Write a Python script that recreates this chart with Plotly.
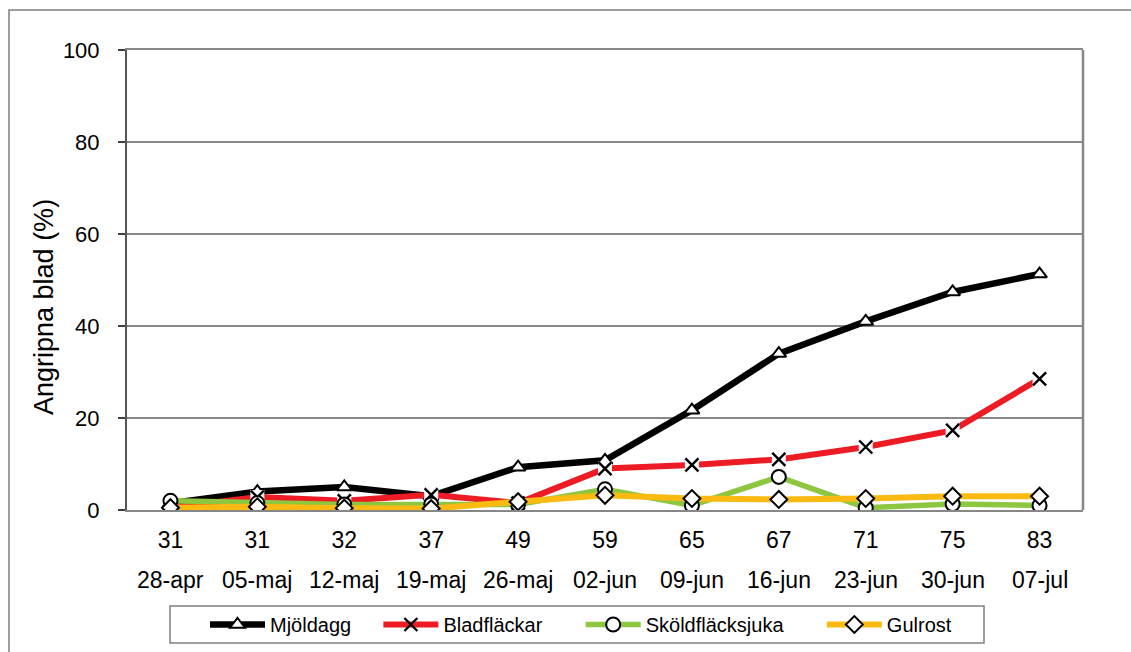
import plotly.graph_objects as go

# Growth stage codes and observation dates (two-level category axis)
stages = ["31", "31", "32", "37", "49", "59", "65", "67", "71", "75", "83"]
dates = ["28-apr", "05-maj", "12-maj", "19-maj", "26-maj", "02-jun",
         "09-jun", "16-jun", "23-jun", "30-jun", "07-jul"]

# Share of infected leaves (%)
mjoldagg = [1.5, 4.0, 5.0, 3.0, 9.3, 10.8, 21.7, 34.0, 41.0, 47.4, 51.3]
bladflackar = [0.5, 2.8, 2.0, 3.3, 1.5, 9.0, 9.8, 11.0, 13.7, 17.3, 28.5]
skoldflacksjuka = [2.0, 1.5, 1.2, 1.2, 1.2, 4.5, 1.0, 7.2, 0.5, 1.3, 1.0]
gulrost = [0.5, 0.7, 0.4, 0.3, 1.8, 3.2, 2.5, 2.3, 2.5, 3.0, 3.0]

y_ticks = [0, 20, 40, 60, 80, 100]

FONT = "Liberation Sans, Arial, sans-serif"
W, H = 1131, 652
L, R, T, B = 127, 48, 50, 142
PW, PH = W - L - R, H - T - B

xs = list(range(len(stages)))


def pad(n):
    # non-breaking spaces widen a legend entry
    return "\u00a0" * n


fig = go.Figure()


def add_series(name, vals, color, symbol, msize, width):
    fig.add_trace(go.Scatter(
        x=xs, y=vals, name=name, mode="lines+markers",
        line=dict(color=color, width=width),
        marker=dict(symbol=symbol, size=msize, color="white",
                    line=dict(color="black", width=2)),
    ))


add_series("Mjöldagg" + pad(4), mjoldagg, "#000000", "triangle-up", 13, 6.5)

# Red series: line, white halo behind each cross, then the cross
fig.add_trace(go.Scatter(
    x=xs, y=bladflackar, name="Bladfläckar" + pad(6), mode="lines+markers",
    line=dict(color="#ED1C24", width=6),
    marker=dict(symbol="x-thin", size=13, color="black",
                line=dict(color="black", width=2.4)),
))
fig.add_trace(go.Scatter(
    x=xs, y=bladflackar, mode="markers", showlegend=False, hoverinfo="skip",
    marker=dict(symbol="square", size=14, color="white", line=dict(width=0)),
))
fig.add_trace(go.Scatter(
    x=xs, y=bladflackar, mode="markers", showlegend=False, hoverinfo="skip",
    marker=dict(symbol="x-thin", size=13, color="black",
                line=dict(color="black", width=2.4)),
))

add_series("Sköldfläcksjuka" + pad(6), skoldflacksjuka, "#8DC63F", "circle", 14, 5.5)
add_series("Gulrost", gulrost, "#FBBA12", "diamond", 13, 6)

# Second row of category labels: dates
for i, d in enumerate(dates):
    fig.add_annotation(
        x=i, xref="x", y=(510 - 580) / PH, yref="paper",
        text=d, showarrow=False, yanchor="middle",
        font=dict(family=FONT, size=23, color="black"),
    )

# Y-axis title
fig.add_annotation(
    x=(44 - L) / PW, xref="paper", y=(T + PH - 307) / PH, yref="paper",
    text="Angripna blad (%)", textangle=-90, showarrow=False,
    xanchor="center", yanchor="middle",
    font=dict(family=FONT, size=27, color="black"),
)

shapes = [
    # right border of the plot area
    dict(type="line", xref="paper", yref="paper", x0=1, x1=1, y0=0, y1=1,
         line=dict(color="#878787", width=2.5), layer="above"),
    # outer chart frame
    dict(type="rect", xref="paper", yref="paper",
         x0=(9 - L) / PW, x1=(1140 - L) / PW,
         y0=(T + PH - 665) / PH, y1=(T + PH - 10) / PH,
         line=dict(color="#808080", width=1.5)),
    # legend frame
    dict(type="rect", xref="paper", yref="paper",
         x0=(170 - L) / PW, x1=(984 - L) / PW,
         y0=(T + PH - 643) / PH, y1=(T + PH - 606) / PH,
         line=dict(color="#808080", width=1.5)),
]

fig.update_layout(
    width=W, height=H,
    margin=dict(l=L, r=R, t=T, b=B, autoexpand=False),
    paper_bgcolor="white", plot_bgcolor="white",
    font=dict(family=FONT, color="black"),
    shapes=shapes,
    showlegend=True,
    legend=dict(
        orientation="h", x=(205 - L) / PW, xanchor="left",
        y=(T + PH - 624.5) / PH, yanchor="middle",
        font=dict(family=FONT, size=20, color="black"),
        itemwidth=55, itemsizing="trace", traceorder="normal",
        bgcolor="rgba(0,0,0,0)", borderwidth=0,
    ),
    xaxis=dict(
        range=[-0.5, len(stages) - 0.5],
        tickvals=xs, ticktext=stages, ticks="",
        tickfont=dict(family=FONT, size=23, color="black"),
        ticklabelstandoff=8,
        showgrid=False, zeroline=False,
        showline=True, linecolor="#878787", linewidth=2, mirror=True,
        fixedrange=True,
    ),
    yaxis=dict(
        range=[0, 100], tickvals=y_ticks,
        tickfont=dict(family=FONT, size=22, color="black"),
        ticks="outside", ticklen=7, tickwidth=1.5, tickcolor="#404040",
        ticklabelstandoff=14,
        showgrid=True, gridcolor="#878787", gridwidth=1.5,
        zeroline=False,
        showline=True, linecolor="#555555", linewidth=2,
        automargin=False,
        fixedrange=True,
    ),
)

fig.write_html("out.html")
